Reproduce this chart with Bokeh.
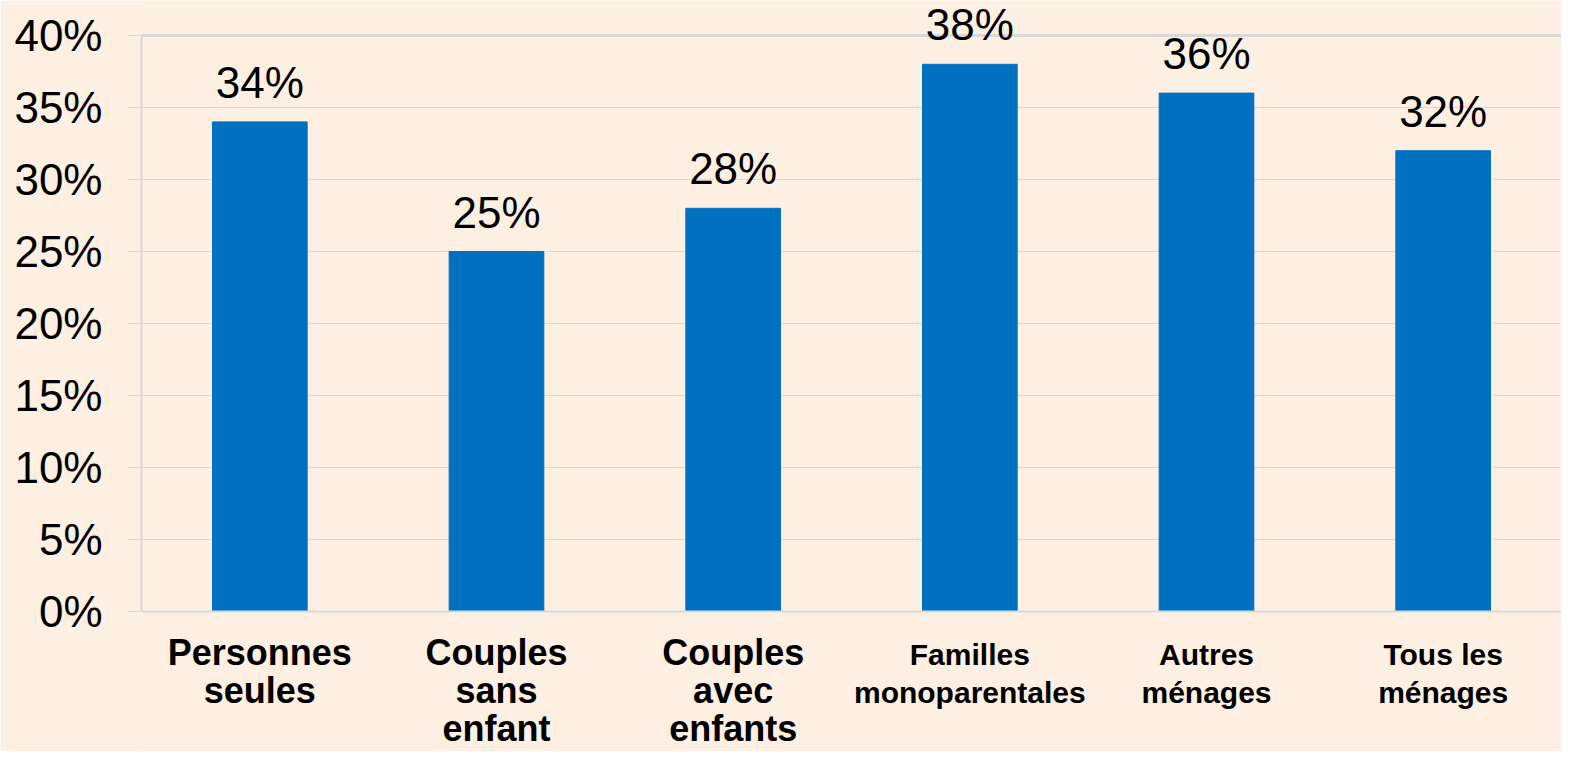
from bokeh.plotting import figure
from bokeh.models import (ColumnDataSource, LabelSet, FactorRange, Range1d, FixedTicker,
                          PrintfTickFormatter, Span)
from bokeh.core.properties import value
from bokeh.embed import file_html
from bokeh.resources import INLINE

# ---- data ----
categories = ["Personnes seules", "Couples sans enfant", "Couples avec enfants",
              "Familles monoparentales", "Autres ménages", "Tous les ménages"]
label_lines = [["Personnes", "seules"], ["Couples", "sans", "enfant"], ["Couples", "avec", "enfants"],
               ["Familles", "monoparentales"], ["Autres", "ménages"], ["Tous les", "ménages"]]
narrow_label = [False, False, False, True, True, True]
values = [34, 25, 28, 38, 36, 32]
y_ticks = [0, 5, 10, 15, 20, 25, 30, 35, 40]

# ---- style / layout ----
BG = "#FDF0E3"
BAR = "#0070C0"
GRID = "#D9D9D9"
FONT = "Liberation Sans"

W, H = 1561, 751
LEFT = 141          # px left of plotting area
TOP_PX = 35         # px from top of canvas to the top tick
ZERO_PX = 611       # px from top of canvas to the zero line
y_lo_tick, y_hi_tick = y_ticks[0], y_ticks[-1]
px_per_unit = (ZERO_PX - TOP_PX) / (y_hi_tick - y_lo_tick)
y_start = y_lo_tick - (H - ZERO_PX) / px_per_unit
y_end = y_hi_tick + TOP_PX / px_per_unit

p = figure(x_range=FactorRange(factors=categories, range_padding=0),
           y_range=Range1d(y_start, y_end),
           width=W, height=H, output_backend="svg", toolbar_location=None,
           min_border_left=LEFT, min_border_right=0, min_border_top=0, min_border_bottom=0,
           background_fill_color=BG, border_fill_color=BG, outline_line_color=None)

src = ColumnDataSource(dict(x=categories, top=values, text=[f"{v}%" for v in values]))
p.vbar(x="x", top="top", bottom=y_lo_tick, width=0.4, source=src, fill_color=BAR, line_color=BAR)

# y axis
p.yaxis.ticker = FixedTicker(ticks=y_ticks)
p.yaxis.bounds = (y_lo_tick, y_hi_tick)
p.yaxis.formatter = PrintfTickFormatter(format="%d%%")
p.yaxis.major_label_text_font = FONT
p.yaxis.major_label_text_font_size = "44px"
p.yaxis.major_label_text_color = "black"
p.yaxis.axis_line_color = GRID
p.yaxis.axis_line_width = 2
p.yaxis.major_tick_line_color = GRID
p.yaxis.major_tick_line_width = 1
p.yaxis.major_tick_out = 13
p.yaxis.major_tick_in = 0
p.yaxis.minor_tick_line_color = None
p.yaxis.major_label_standoff = 26

p.xaxis.visible = False
p.xgrid.grid_line_color = None
p.ygrid.grid_line_color = GRID
p.ygrid.grid_line_width = 1

# category axis line and heavier top line
p.add_layout(Span(location=y_lo_tick, dimension="width", line_color=GRID, line_width=2))
p.add_layout(Span(location=y_hi_tick, dimension="width", line_color=GRID, line_width=3))

# value labels
p.add_layout(LabelSet(x="x", y="top", text="text", source=src, y_offset=24,
                      text_align="center", text_baseline="alphabetic",
                      text_font=value(FONT), text_font_size="44px", text_color="black"))

# category labels (multi-line, below the zero line)
FIRST_LINE = 53
LINE_STEP = 38
for use_narrow, size in [(False, "36px"), (True, "30px")]:
    xs, ys, texts, offs = [], [], [], []
    for cat, lines, nar in zip(categories, label_lines, narrow_label):
        if nar != use_narrow:
            continue
        for k, line in enumerate(lines):
            xs.append(cat)
            ys.append(y_lo_tick)
            texts.append(line)
            offs.append(-(FIRST_LINE + LINE_STEP * k))
    s = ColumnDataSource(dict(x=xs, y=ys, text=texts, off=offs))
    p.add_layout(LabelSet(x="x", y="y", text="text", source=s, y_offset="off",
                          text_align="center", text_baseline="alphabetic",
                          text_font=value(FONT), text_font_size=size, text_font_style="bold",
                          text_color="black"))

open("out.html", "w").write(file_html(p, INLINE))
